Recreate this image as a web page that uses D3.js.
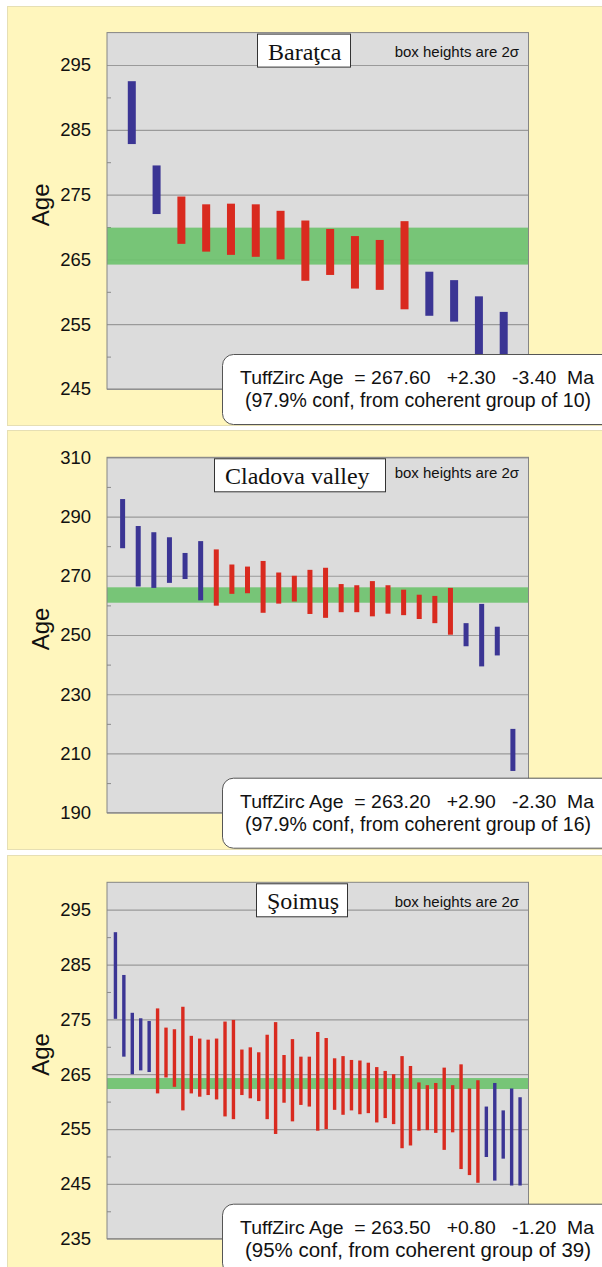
<!DOCTYPE html>
<html>
<head>
<meta charset="utf-8">
<script src="https://cdn.jsdelivr.net/npm/d3@7"></script>
<style>
  body { margin: 0; background: #fff; }
  svg text { font-family: Arial, "Liberation Sans", sans-serif; }
  .pre { white-space: pre; }
</style>
</head>
<body>
<svg id="viz"></svg>
<script>
// ---- data: one age interval (2 sigma box) per zircon, sorted by age ----
// Baraţca
const baratcaHigh = [292.5, 279.5, 274.7, 273.5, 273.6, 273.5, 272.5, 271.0, 269.7, 268.6, 268.0, 270.9, 263.1, 261.8, 259.3, 256.9];
const baratcaLow  = [282.8, 272.0, 267.4, 266.2, 265.7, 265.4, 265.0, 261.7, 262.6, 260.5, 260.3, 257.3, 256.3, 255.4, 249.0, 248.5];
const baratcaGroup = [2, 11];          // first / last index of coherent group
const baratcaAge = [267.60, 2.30, 3.40]; // age, +, -
const baratcaConf = "97.9%";

// Cladova valley
const cladovaHigh = [295.9, 286.8, 284.7, 283.0, 277.7, 281.7, 278.9, 273.8, 273.1, 275.0, 271.1, 270.0, 272.0,
  272.7, 267.2, 266.8, 268.2, 266.8, 265.3, 263.6, 263.2, 265.9, 254.0, 260.5, 252.8, 218.3];
const cladovaLow  = [279.3, 266.4, 265.9, 267.6, 268.9, 261.7, 259.9, 263.9, 264.1, 257.5, 260.6, 261.3, 257.1,
  255.8, 257.7, 257.7, 256.3, 257.2, 256.7, 255.4, 254.0, 250.1, 246.2, 239.4, 243.1, 204.1];
const cladovaGroup = [6, 21];
const cladovaAge = [263.20, 2.90, 2.30];
const cladovaConf = "97.9%";

// Şoimuş
const soimusHigh = [290.9, 283.1, 276.2, 275.2, 274.7, 277.0, 273.5, 273.2, 277.3, 272.0, 271.5, 271.3, 271.5,
  274.6, 274.9, 269.5, 269.9, 269.0, 272.2, 274.5, 268.5, 271.4, 268.2, 268.2, 272.7, 271.6, 267.9, 268.3,
  267.6, 267.5, 267.1, 266.3, 265.6, 265.0, 268.3, 266.5, 263.5, 263.0, 263.4, 266.2, 263.0, 266.8, 262.4,
  263.9, 259.1, 263.4, 258.4, 262.4, 260.8];
const soimusLow  = [275.1, 268.2, 265.0, 265.7, 265.4, 261.5, 264.4, 262.7, 258.4, 261.5, 260.9, 261.2, 260.4,
  257.3, 256.8, 261.2, 260.6, 260.1, 256.8, 254.1, 259.8, 256.4, 259.4, 259.1, 254.7, 255.0, 258.5, 257.6,
  258.4, 257.7, 257.9, 256.2, 257.0, 255.9, 251.5, 252.0, 254.7, 254.8, 254.3, 251.2, 254.4, 247.7, 246.6,
  245.2, 249.9, 245.6, 249.6, 244.7, 244.7];
const soimusGroup = [5, 43];
const soimusAge = [263.50, 0.80, 1.20];
const soimusConf = "95%";

const baratcaTicks = [245, 255, 265, 275, 285, 295];
const cladovaTicks = [190, 210, 230, 250, 270, 290, 310];
const soimusTicks  = [235, 245, 255, 265, 275, 285, 295];

// ---- layout ----
const W = 602, H = 1267;
const plotX0 = 107, plotX1 = 528.5;
const RED = "#d92a1f", BLUE = "#3b3594", GREEN = "#6fc36f";

const panels = [
  { title: "Baraţca", high: baratcaHigh, low: baratcaLow, group: baratcaGroup, age: baratcaAge, conf: baratcaConf,
    ticks: baratcaTicks, step: 10, domain: [245, 300], bgTop: 6, bgBottom: 425, top: 32.6, bottom: 389,
    barW: 8, tbx: 257, tbw: 93, noteDy: 24.5 },
  { title: "Cladova valley", high: cladovaHigh, low: cladovaLow, group: cladovaGroup, age: cladovaAge, conf: cladovaConf,
    ticks: cladovaTicks, step: 20, domain: [190, 310], bgTop: 430, bgBottom: 849, top: 457.3, bottom: 812.7,
    barW: 5, tbx: 214, tbw: 171, noteDy: 20.5 },
  { title: "Şoimuş", high: soimusHigh, low: soimusLow, group: soimusGroup, age: soimusAge, conf: soimusConf,
    ticks: soimusTicks, step: 10, domain: [235, 300], bgTop: 855, bgBottom: 1280, top: 882.3, bottom: 1238.7,
    barW: 3.4, tbx: 256, tbw: 91, noteDy: 25 }
];

const svg = d3.select("#viz").attr("width", W).attr("height", H);

panels.forEach(p => {
  const g = svg.append("g");
  const n = p.high.length;
  const x = d3.scaleLinear().domain([0, n + 1]).range([plotX0, plotX1]);
  const y = d3.scaleLinear().domain(p.domain).range([p.bottom, p.top]);
  const pw = plotX1 - plotX0;

  // yellow backing panel
  g.append("rect")
    .attr("x", 7.5).attr("y", p.bgTop + 0.5)
    .attr("width", 620).attr("height", p.bgBottom - p.bgTop)
    .attr("fill", "#fff6bd").attr("stroke", "#e6dfb4");

  // plot area
  g.append("rect")
    .attr("x", plotX0).attr("y", p.top)
    .attr("width", pw).attr("height", p.bottom - p.top)
    .attr("fill", "#dcdcdc");

  // gridlines at labelled ticks
  g.append("g")
    .attr("transform", `translate(${plotX0},0)`)
    .call(d3.axisRight(y).tickValues(p.ticks).tickSize(pw).tickFormat(""))
    .call(s => s.select(".domain").remove())
    .call(s => s.selectAll("line").attr("stroke", "#9a9a9a").attr("stroke-width", 1.2));

  // minor ticks halfway between
  const minor = p.ticks.map(t => t + p.step / 2).filter(t => t < p.domain[1]);
  g.append("g")
    .attr("transform", `translate(${plotX0},0)`)
    .call(d3.axisRight(y).tickValues(minor).tickSize(4).tickFormat(""))
    .call(s => s.select(".domain").remove())
    .call(s => s.selectAll("line").attr("stroke", "#8a8a8a"));

  // weighted age band
  g.append("rect")
    .attr("x", plotX0).attr("width", pw)
    .attr("y", y(p.age[0] + p.age[1]))
    .attr("height", y(p.age[0] - p.age[2]) - y(p.age[0] + p.age[1]))
    .attr("fill", GREEN).attr("fill-opacity", 0.93);

  // plot frame
  g.append("rect")
    .attr("x", plotX0).attr("y", p.top)
    .attr("width", pw).attr("height", p.bottom - p.top)
    .attr("fill", "none").attr("stroke", "#858585");

  // y labels
  g.append("g")
    .attr("transform", `translate(${plotX0 - 16},0)`)
    .call(d3.axisLeft(y).tickValues(p.ticks).tickSize(0).tickPadding(0).tickFormat(d3.format("d")))
    .call(s => s.select(".domain").remove())
    .call(s => s.selectAll("text").attr("font-size", 18.5).attr("fill", "#111")
      .attr("font-family", "Arial, 'Liberation Sans', sans-serif"));

  g.append("text")
    .attr("transform", `translate(${49},${(p.top + p.bottom) / 2 - 6}) rotate(-90)`)
    .attr("text-anchor", "middle")
    .attr("font-size", 24).attr("fill", "#111")
    .text("Age");

  // 2-sigma boxes
  const idx = d3.range(n);
  g.selectAll("rect.bar").data(idx).join("rect")
    .attr("class", "bar")
    .attr("x", i => x(i + 1) - p.barW / 2)
    .attr("width", p.barW)
    .attr("y", i => y(p.high[i]))
    .attr("height", i => y(p.low[i]) - y(p.high[i]))
    .attr("fill", i => (i >= p.group[0] && i <= p.group[1]) ? RED : BLUE);

  // title box
  g.append("rect")
    .attr("x", p.tbx + 0.5).attr("y", p.top + 1.5)
    .attr("width", p.tbw).attr("height", 33)
    .attr("fill", "#fff").attr("stroke", "#333");
  g.append("text")
    .attr("x", p.tbx + 11).attr("y", p.top + 27)
    .attr("font-family", "'Liberation Serif', 'Times New Roman', serif")
    .style("font-family", "'Liberation Serif', 'Times New Roman', serif")
    .attr("font-size", 24).attr("fill", "#111")
    .text(p.title);

  g.append("text")
    .attr("x", 519).attr("y", p.top + p.noteDy)
    .attr("text-anchor", "end")
    .attr("font-size", 15).attr("fill", "#111")
    .text("box heights are 2σ");

  // result box
  const by = p.bottom - 35;
  g.append("rect")
    .attr("x", 222.5).attr("y", by + 0.5)
    .attr("width", 420).attr("height", 70)
    .attr("rx", 11).attr("ry", 11)
    .attr("fill", "#fff").attr("stroke", "#555");
  g.append("text")
    .attr("class", "pre")
    .attr("x", 417).attr("y", by + 30)
    .attr("text-anchor", "middle")
    .attr("textLength", 354).attr("lengthAdjust", "spacingAndGlyphs")
    .attr("font-size", 19).attr("fill", "#111")
    .text(`TuffZirc Age  = ${p.age[0].toFixed(2)}   +${p.age[1].toFixed(2)}   -${p.age[2].toFixed(2)}  Ma`);
  g.append("text")
    .attr("x", 418).attr("y", by + 53)
    .attr("text-anchor", "middle")
    .attr("textLength", 346).attr("lengthAdjust", "spacingAndGlyphs")
    .attr("font-size", 19.5).attr("fill", "#111")
    .text(`(${p.conf} conf, from coherent group of ${p.group[1] - p.group[0] + 1})`);
});
</script>
</body>
</html>
